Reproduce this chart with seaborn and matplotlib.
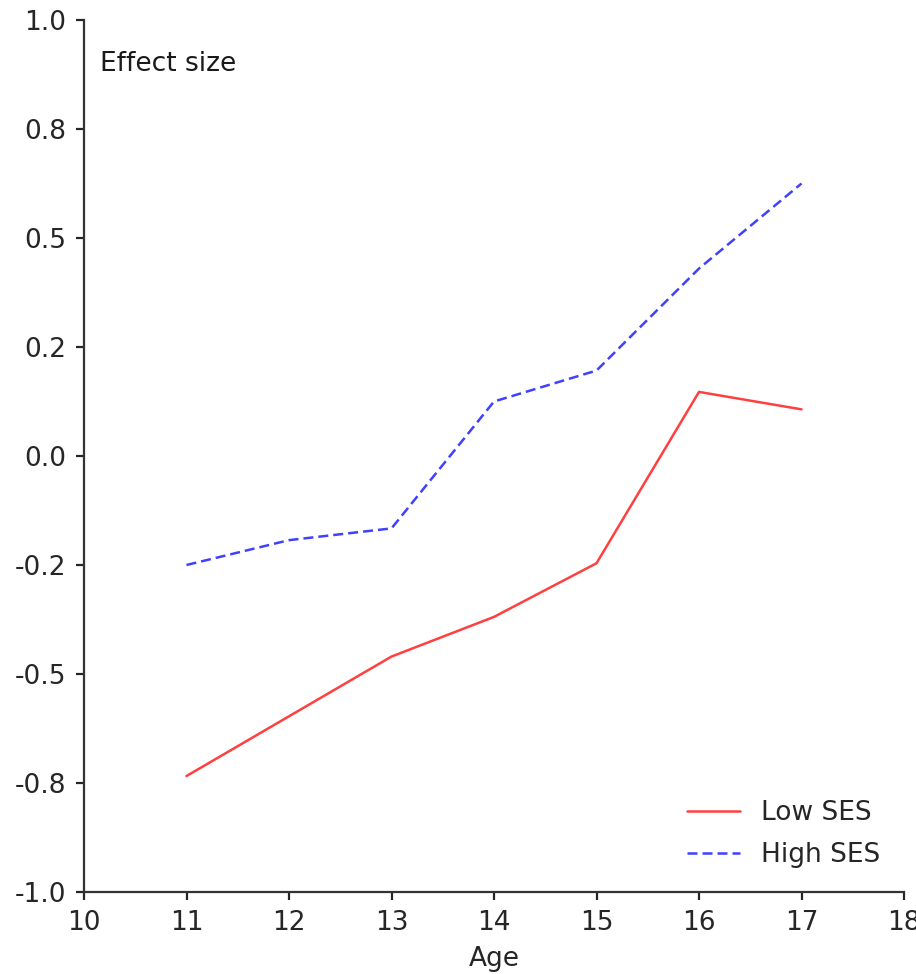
import matplotlib
matplotlib.use("Agg")
import matplotlib.pyplot as plt
import seaborn as sns
import pandas as pd
from matplotlib.ticker import FormatStrFormatter, MultipleLocator

ages = [11, 12, 13, 14, 15, 16, 17]
low_ses = [-0.734, -0.597, -0.460, -0.369, -0.246, 0.147, 0.107]
high_ses = [-0.250, -0.193, -0.166, 0.125, 0.196, 0.430, 0.625]
series_names = ["Low SES", "High SES"]

df = pd.DataFrame({
    "Age": ages * 2,
    "Effect": low_ses + high_ses,
    "Group": [series_names[0]] * len(ages) + [series_names[1]] * len(ages),
})

sns.set_style("ticks")
plt.rcParams["font.family"] = ["DejaVu Sans"]

fig = plt.figure(figsize=(4.58, 4.87), dpi=200)
ax = fig.add_axes([84 / 916, 1 - 892 / 974, (904 - 84) / 916, (892 - 20) / 974])

sns.lineplot(data=df, x="Age", y="Effect", hue="Group", style="Group",
             palette={"Low SES": "#ff0000", "High SES": "#0000ff"},
             dashes={"Low SES": "", "High SES": (4, 2)},
             alpha=0.75, linewidth=0.9, ax=ax)

ax.set_xlim(10, 18)
ax.set_ylim(-1.0, 1.0)
ax.xaxis.set_major_locator(MultipleLocator(1))
ax.yaxis.set_major_locator(MultipleLocator(0.25))
ax.yaxis.set_major_formatter(FormatStrFormatter("%.1f"))
ax.tick_params(labelsize=9.5, length=3, width=0.8, colors="0.15")
ax.set_xlabel("Age", fontsize=9.5, labelpad=3.5)
ax.set_ylabel("")
ax.text(0.02, 0.965, "Effect size", transform=ax.transAxes, fontsize=9.5,
        va="top", ha="left", color="0.1")
sns.despine(ax=ax)
for s in ["left", "bottom"]:
    ax.spines[s].set_linewidth(0.8)
    ax.spines[s].set_color("0.2")

leg = ax.legend(loc="lower right", frameon=False, fontsize=9.5,
                handlelength=2.0, labelspacing=0.6,
                bbox_to_anchor=(1.0, 0.0))

fig.savefig("out.png", dpi=200)
